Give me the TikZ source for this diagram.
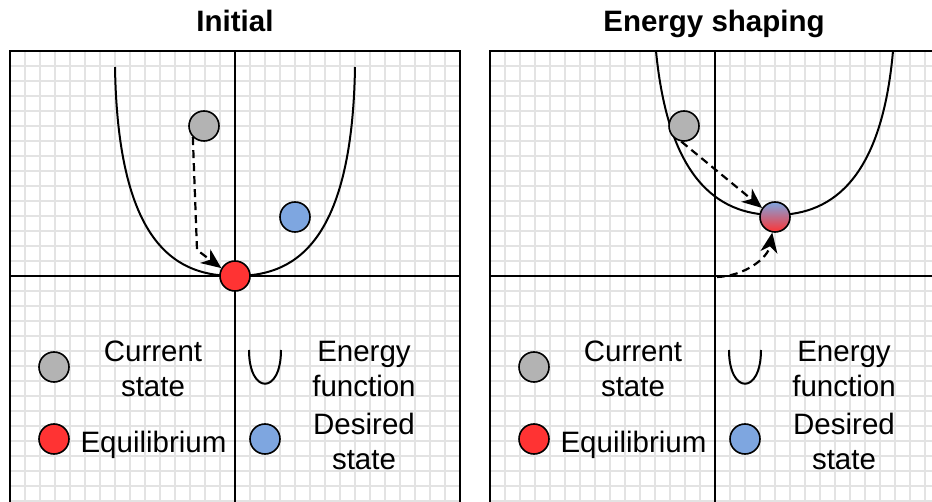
\documentclass[tikz,border=0pt]{standalone}
\usepackage{fontspec}
\setmainfont{Liberation Sans}
\usetikzlibrary{arrows.meta}
\definecolor{curgray}{HTML}{B3B3B3}
\definecolor{eqred}{HTML}{FF3333}
\definecolor{desblue}{HTML}{7EA6E0}
\definecolor{gridgray}{HTML}{E3E3E3}

\begin{document}
\begin{tikzpicture}[x=1pt, y=-1pt, line width=2pt,
  ball/.style={circle, draw, line width=1.6pt, minimum size=30pt, inner sep=0pt},
  lbl/.style={font=\fontsize{29.5}{35.5}\selectfont, align=center, inner sep=0pt, anchor=base},
  ttl/.style={font=\fontsize{29.5}{35.5}\selectfont\bfseries, inner sep=0pt, anchor=base},
  gridline/.style={gridgray, line width=1.2pt},
  move/.style={dash pattern=on 8pt off 5pt, line width=2.2pt, -{Stealth[length=20pt,width=17pt,inset=6pt]}},
  energy/.style={line width=2pt}]
  \useasboundingbox (0,0) rectangle (932,502);
  \clip (0,0) rectangle (932,502);

  % grid paper, frame and axes of both panels
  \foreach \px in {10,490} {
    \foreach \gx in {15,30,...,435} \draw[gridline] (\px+\gx,51) -- (\px+\gx,504);
    \foreach \gy in {66,81,...,501} \draw[gridline] (\px,\gy) -- (\px+450,\gy);
    \draw (\px,51) rectangle (\px+450,504);
    \draw (\px+225,51) -- (\px+225,504);
    \draw (\px,276) -- (\px+450,276);
  }

  \node[ttl] (t1) at (235,32) {Initial};
  \node[ttl] (t2) at (714,32) {Energy shaping};

  % energy functions
  \draw[energy] (115,67) .. controls (118,250) and (180,276) .. (235,276)
    .. controls (290,276) and (352,250) .. (355,67);
  \draw[energy] (656,51) .. controls (668,175) and (715,215) .. (775,215)
    .. controls (835,215) and (882,175) .. (893,51);

  % states
  \node[ball, fill=curgray] (cur1) at (204,126) {};
  \node[ball, fill=desblue] (des1) at (295,217) {};
  \node[ball, fill=eqred] (eq1) at (235,276) {};
  \node[ball, fill=curgray] (cur2) at (684,126) {};
  \node[ball, top color=desblue, bottom color=eqred] (eq2) at (775,217) {};
  \coordinate (orig2) at (717,277);

  \draw[move] (cur1.-135) -- (197,250) -- (eq1.150);
  \draw[move] (cur2.-100) -- (eq2.145);
  \draw[move] (orig2) .. controls (745,276) and (768,258) .. (eq2.-100);

  % legends (the base of a two-line label is its last line)
  \foreach \ox [count=\i] in {0,480} {
    \begin{scope}[xshift=\ox]
      \node[ball, fill=curgray] (lgcur\i) at (54,367) {};
      \node[lbl] (txcur\i) at (153,397) {Current\\state};
      \node[ball, fill=eqred] (lgeq\i) at (54,439) {};
      \node[lbl] (txeq\i) at (153.5,453) {Equilibrium};
      \draw[energy] (249,350) .. controls (249,395) and (281,395) .. (281,350);
      \node[lbl] (txen\i) at (364,397) {Energy\\function};
      \node[ball, fill=desblue] (lgdes\i) at (265,439) {};
      \node[lbl] (txdes\i) at (364,470) {Desired\\state};
    \end{scope}
  }
\end{tikzpicture}
\end{document}
